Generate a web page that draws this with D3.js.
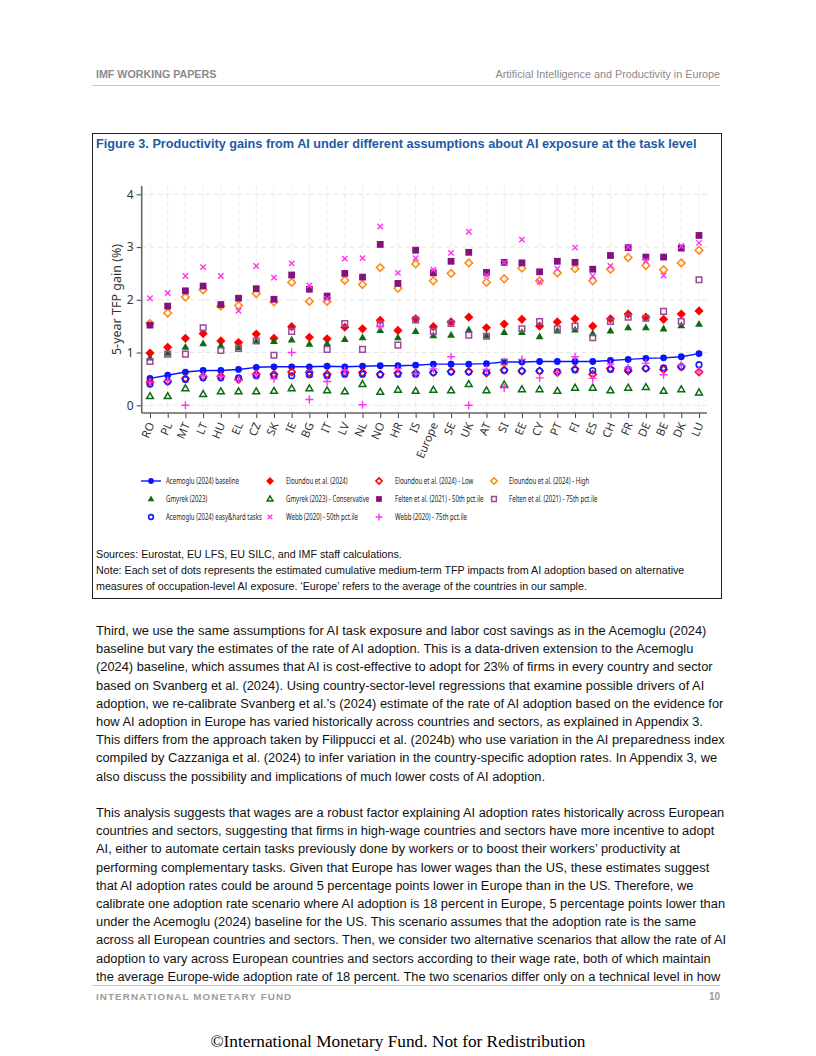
<!DOCTYPE html>
<html><head><meta charset="utf-8">
<script src="https://cdn.jsdelivr.net/npm/d3@7"></script>
<style>
body{margin:0;background:#fff;}
svg{display:block;}
</style></head>
<body>
<svg id="page" width="816" height="1056"></svg>
<script>
const categories = ["RO","PL","MT","LT","HU","EL","CZ","SK","IE","BG","IT","LV","NL","NO","HR","IS","Europe","SE","UK","AT","SI","EE","CY","PT","FI","ES","CH","FR","DE","BE","DK","LU"];
const baseline   = [0.51,0.57,0.63,0.66,0.66,0.68,0.72,0.73,0.73,0.73,0.74,0.73,0.74,0.75,0.75,0.76,0.78,0.78,0.78,0.79,0.82,0.82,0.83,0.83,0.83,0.83,0.85,0.87,0.89,0.90,0.92,0.98];
const eloundou   = [0.99,1.10,1.27,1.36,1.22,1.19,1.35,1.27,1.49,1.29,1.26,1.48,1.45,1.61,1.42,1.64,1.49,1.58,1.67,1.47,1.54,1.63,1.50,1.58,1.64,1.50,1.64,1.73,1.67,1.63,1.73,1.79];
const eloundouLow= [0.44,0.45,0.51,0.54,0.55,0.49,0.59,0.59,0.63,0.62,0.59,0.62,0.62,0.59,0.61,0.61,0.62,0.64,0.64,0.61,0.67,0.65,0.65,0.62,0.69,0.59,0.70,0.65,0.70,0.68,0.73,0.63];
const eloundouHigh=[1.55,1.75,2.05,2.19,1.88,1.89,2.12,1.96,2.33,1.97,1.97,2.37,2.29,2.61,2.22,2.68,2.36,2.50,2.70,2.33,2.40,2.60,2.36,2.51,2.59,2.36,2.58,2.80,2.65,2.57,2.70,2.94];
const gmyrek     = [0.90,0.99,1.10,1.17,1.13,1.09,1.21,1.21,1.24,1.16,1.17,1.25,1.28,1.42,1.28,1.40,1.32,1.33,1.43,1.32,1.38,1.38,1.30,1.41,1.43,1.36,1.41,1.47,1.47,1.45,1.51,1.54];
const gmyrekCons = [0.17,0.17,0.32,0.21,0.26,0.26,0.26,0.27,0.32,0.32,0.28,0.26,0.40,0.25,0.29,0.27,0.29,0.28,0.40,0.28,0.39,0.30,0.30,0.27,0.33,0.33,0.28,0.33,0.34,0.27,0.30,0.24];
const felten50   = [1.52,1.88,2.17,2.26,1.91,2.03,2.21,2.01,2.47,2.20,2.07,2.50,2.43,3.05,2.31,2.94,2.51,2.73,2.90,2.52,2.71,2.70,2.53,2.73,2.71,2.58,2.84,2.99,2.81,2.81,2.98,3.22];
const felten75   = [0.83,0.97,0.97,1.47,1.04,1.08,1.22,0.95,1.40,0.60,1.06,1.55,1.06,1.54,1.14,1.62,1.40,1.55,1.33,1.31,0.82,1.45,1.59,1.45,1.50,1.28,1.59,1.67,1.65,1.78,1.59,2.38];
const easyHard   = [0.40,0.45,0.49,0.52,0.52,0.52,0.56,0.56,0.56,0.58,0.56,0.59,0.59,0.58,0.59,0.59,0.62,0.63,0.63,0.63,0.66,0.65,0.65,0.64,0.67,0.66,0.68,0.68,0.70,0.71,0.73,0.77];
const webb50     = [2.03,2.13,2.45,2.62,2.45,1.79,2.64,2.42,2.69,2.27,2.02,2.78,2.79,3.39,2.51,2.79,2.57,2.89,3.29,2.46,2.71,3.14,2.34,2.59,2.99,2.45,2.64,3.00,2.74,2.46,3.02,3.08];
const webb75     = [0.44,0.47,0.00,0.56,0.55,0.48,0.59,0.50,1.00,0.11,0.45,0.66,0.01,1.50,0.69,0.60,0.69,0.92,0.00,0.68,0.33,0.87,0.52,0.62,0.92,0.51,0.78,0.71,0.80,0.58,0.76,0.65];
const yTicks = [0,1,2,3,4];

const legendLabels = [
 "Acemoglu (2024) baseline","Eloundou et al. (2024)","Eloundou et al. (2024) - Low","Eloundou et al. (2024) - High",
 "Gmyrek (2023)","Gmyrek (2023) - Conservative","Felten et al. (2021) - 50th pct.ile","Felten et al. (2021) - 75th pct.ile",
 "Acemoglu (2024) easy&hard tasks","Webb (2020) - 50th pct.ile","Webb (2020) - 75th pct.ile"];

const svg = d3.select("#page");
const sans = "'Liberation Sans', Arial, sans-serif";
const chartFont = "'Noto Sans', 'Open Sans', sans-serif";

// Header
svg.append("text").attr("x",96).attr("y",78).attr("font-family",sans).attr("font-weight","bold")
  .attr("font-size",10.7).attr("fill","#8a8a8a").text("IMF WORKING PAPERS");
svg.append("text").attr("x",720).attr("y",78).attr("text-anchor","end").attr("font-family",sans)
  .attr("font-size",10.8).attr("fill","#8a8a8a").text("Artificial Intelligence and Productivity in Europe");
svg.append("line").attr("x1",92).attr("x2",720).attr("y1",85.5).attr("y2",85.5).attr("stroke","#c8c8c8").attr("stroke-width",1);

// Figure box
svg.append("rect").attr("x",92.5).attr("y",133.5).attr("width",629).attr("height",465).attr("fill","none").attr("stroke","#222").attr("stroke-width",1);
svg.append("text").attr("x",96).attr("y",148).attr("font-family",sans).attr("font-weight","bold")
  .attr("font-size",12.7).attr("fill","#1c5ba6").text("Figure 3. Productivity gains from AI under different assumptions about AI exposure at the task level");

// Scales
const x = d3.scalePoint().domain(categories).range([150,699]);
const y = d3.scaleLinear().domain([0,4]).range([405.3,194.3]);
const yTop = 186, yBot = 413, xLeft = 141.7, xRight = 707;

const g = svg.append("g");
g.selectAll(".hg").data(yTicks).join("line").attr("x1",xLeft).attr("x2",xRight)
  .attr("y1",d=>y(d)).attr("y2",d=>y(d)).attr("stroke","#e6e6e6").attr("stroke-width",1).attr("stroke-dasharray","5,3");
g.selectAll(".vg").data(categories).join("line").attr("x1",d=>x(d)).attr("x2",d=>x(d))
  .attr("y1",yTop).attr("y2",yBot).attr("stroke","#ededed").attr("stroke-width",1).attr("stroke-dasharray","5,3");

// axes
const yAxis = d3.axisLeft(y).tickValues(yTicks).tickSize(5).tickSizeOuter(0).tickFormat(d3.format("d"));
const ya = svg.append("g").attr("transform",`translate(${xLeft},0)`).call(yAxis);
ya.select(".domain").remove();
ya.selectAll(".tick line").attr("stroke","#555").attr("stroke-width",1.2);
ya.selectAll(".tick text").attr("font-family",chartFont).attr("font-size",12).attr("fill","#333").attr("x",-8);
svg.append("line").attr("x1",xLeft).attr("x2",xLeft).attr("y1",yTop).attr("y2",yBot).attr("stroke","#666").attr("stroke-width",1.6);

const xAxis = d3.axisBottom(x).tickSize(5).tickSizeOuter(0);
const xa = svg.append("g").attr("transform",`translate(0,${yBot})`).call(xAxis);
xa.select(".domain").remove();
xa.selectAll(".tick line").attr("stroke","#444").attr("stroke-width",1);
xa.selectAll(".tick text").attr("font-family",chartFont).attr("font-size",11.3).attr("fill","#333")
  .attr("text-anchor","end").attr("dy","0.35em").attr("transform","translate(1,9) rotate(-67)").attr("y",0).attr("x",-1);
svg.append("line").attr("x1",xLeft).attr("x2",xRight).attr("y1",yBot).attr("y2",yBot).attr("stroke","#666").attr("stroke-width",1.6);

svg.append("text").attr("transform",`translate(121,${(yTop+yBot)/2}) rotate(-90)`).attr("text-anchor","middle")
  .attr("font-family",chartFont).attr("font-size",12.5).attr("fill","#333").text("5-year TFP gain (%)");

function sym(type, s){
  switch(type){
    case "circle": return d3.symbol(d3.symbolCircle, s*s*Math.PI)();
    case "square": return `M${-s},${-s}H${s}V${s}H${-s}Z`;
    case "diamond": return `M0,${-s}L${s},0L0,${s}L${-s},0Z`;
    case "triangle": { const h=s*1.732; return `M0,${-h*0.62}L${s},${h*0.38}L${-s},${h*0.38}Z`; }
    case "plus": return `M${-s},0H${s}M0,${-s}V${s}`;
    case "x": return `M${-s},${-s}L${s},${s}M${-s},${s}L${s},${-s}`;
  }
}
const series = [
  {data:baseline, type:"circle", size:3.4, fill:"#0a14ff", stroke:"none", sw:0, line:true},
  {data:eloundou, type:"diamond", size:4.6, fill:"#ff0000", stroke:"none", sw:0},
  {data:eloundouLow, type:"diamond", size:3.6, fill:"none", stroke:"#ff0000", sw:1.6},
  {data:eloundouHigh, type:"diamond", size:3.8, fill:"none", stroke:"#ff8c1a", sw:1.6},
  {data:gmyrek, type:"triangle", size:3.9, fill:"#0b6b12", stroke:"none", sw:0},
  {data:gmyrekCons, type:"triangle", size:3.4, fill:"none", stroke:"#0b6b12", sw:1.5},
  {data:felten50, type:"square", size:3.4, fill:"#82127e", stroke:"none", sw:0},
  {data:felten75, type:"square", size:2.8, fill:"none", stroke:"#9a4a98", sw:1.5},
  {data:easyHard, type:"circle", size:2.8, fill:"none", stroke:"#1a1aff", sw:1.6},
  {data:webb50, type:"x", size:2.7, fill:"none", stroke:"#ff33ee", sw:1.4},
  {data:webb75, type:"plus", size:4, fill:"none", stroke:"#ff33ee", sw:1.4}
];
series.forEach((s,i)=>{ s.label = legendLabels[i]; });

const plot = svg.append("g");
series.forEach(s=>{
  if(s.line){
    plot.append("path").datum(s.data).attr("fill","none").attr("stroke",s.fill).attr("stroke-width",1.4)
      .attr("d", d3.line().x((d,i)=>x(categories[i])).y(d=>y(d)));
  }
  plot.append("g").selectAll("path").data(s.data).join("path")
    .attr("transform",(d,i)=>`translate(${x(categories[i])},${y(d)})`)
    .attr("d", sym(s.type, s.size)).attr("fill",s.fill).attr("stroke",s.stroke).attr("stroke-width",s.sw);
});

// legend
const colSym = [151,270,379,494], colTxt=[166,286,395,509], rowY=[481,499,517];
const lg = svg.append("g");
series.forEach((s,i)=>{
  const c = i%4, r = Math.floor(i/4);
  const cy = rowY[r];
  if(s.line){
    lg.append("line").attr("x1",141).attr("x2",161).attr("y1",cy).attr("y2",cy).attr("stroke",s.fill).attr("stroke-width",1.4);
  }
  lg.append("path").attr("transform",`translate(${colSym[c]},${cy})`)
    .attr("d", sym(s.type, s.size*0.85)).attr("fill",s.fill).attr("stroke",s.stroke).attr("stroke-width",s.sw);
  lg.append("text").attr("transform",`translate(${colTxt[c]},${cy}) scale(0.74,1)`).attr("dy","0.35em").attr("font-family",chartFont)
    .attr("font-size",8.2).attr("fill","#222").text(s.label);
});

const notes = [
 ["Sources: Eurostat, EU LFS, EU SILC, and IMF staff calculations.",558],
 ["Note: Each set of dots represents the estimated cumulative medium-term TFP impacts from AI adoption based on alternative",574],
 ["measures of occupation-level AI exposure. \u2018Europe\u2019 refers to the average of the countries in our sample.",590]];
notes.forEach(n=>svg.append("text").attr("x",96).attr("y",n[1]).attr("font-family",sans).attr("font-size",10.7).attr("fill","#111").text(n[0]));

const para1 = [
"Third, we use the same assumptions for AI task exposure and labor cost savings as in the Acemoglu (2024)",
"baseline but vary the estimates of the rate of AI adoption. This is a data-driven extension to the Acemoglu",
"(2024) baseline, which assumes that AI is cost-effective to adopt for 23% of firms in every country and sector",
"based on Svanberg et al. (2024). Using country-sector-level regressions that examine possible drivers of AI",
"adoption, we re-calibrate Svanberg et al.\u2019s (2024) estimate of the rate of AI adoption based on the evidence for",
"how AI adoption in Europe has varied historically across countries and sectors, as explained in Appendix 3.",
"This differs from the approach taken by Filippucci et al. (2024b) who use variation in the AI preparedness index",
"compiled by Cazzaniga et al. (2024) to infer variation in the country-specific adoption rates. In Appendix 3, we",
"also discuss the possibility and implications of much lower costs of AI adoption."];
const para2 = [
"This analysis suggests that wages are a robust factor explaining AI adoption rates historically across European",
"countries and sectors, suggesting that firms in high-wage countries and sectors have more incentive to adopt",
"AI, either to automate certain tasks previously done by workers or to boost their workers\u2019 productivity at",
"performing complementary tasks. Given that Europe has lower wages than the US, these estimates suggest",
"that AI adoption rates could be around 5 percentage points lower in Europe than in the US. Therefore, we",
"calibrate one adoption rate scenario where AI adoption is 18 percent in Europe, 5 percentage points lower than",
"under the Acemoglu (2024) baseline for the US. This scenario assumes that the adoption rate is the same",
"across all European countries and sectors. Then, we consider two alternative scenarios that allow the rate of AI",
"adoption to vary across European countries and sectors according to their wage rate, both of which maintain",
"the average Europe-wide adoption rate of 18 percent. The two scenarios differ only on a technical level in how"];
para1.forEach((t,i)=>svg.append("text").attr("x",96).attr("y",635+i*18.2).attr("font-family",sans).attr("font-size",12.85).attr("fill","#111").text(t));
para2.forEach((t,i)=>svg.append("text").attr("x",96).attr("y",817+i*18.2).attr("font-family",sans).attr("font-size",12.85).attr("fill","#111").text(t));

svg.append("line").attr("x1",92).attr("x2",720).attr("y1",985.5).attr("y2",985.5).attr("stroke","#c8c8c8");
svg.append("text").attr("x",96).attr("y",1000).attr("font-family",sans).attr("font-weight","bold").attr("font-size",9.8)
  .attr("fill","#9a9a9a").attr("letter-spacing",1.1).text("INTERNATIONAL MONETARY FUND");
svg.append("text").attr("x",720).attr("y",1000).attr("text-anchor","end").attr("font-family",sans).attr("font-weight","bold").attr("font-size",10)
  .attr("fill","#9a9a9a").text("10");
svg.append("text").attr("x",398).attr("y",1047).attr("text-anchor","middle").attr("font-family","'Liberation Serif', 'Times New Roman', serif")
  .attr("font-size",17.3).attr("fill","#000").text("\u00a9International Monetary Fund. Not for Redistribution");
</script>
</body></html>
